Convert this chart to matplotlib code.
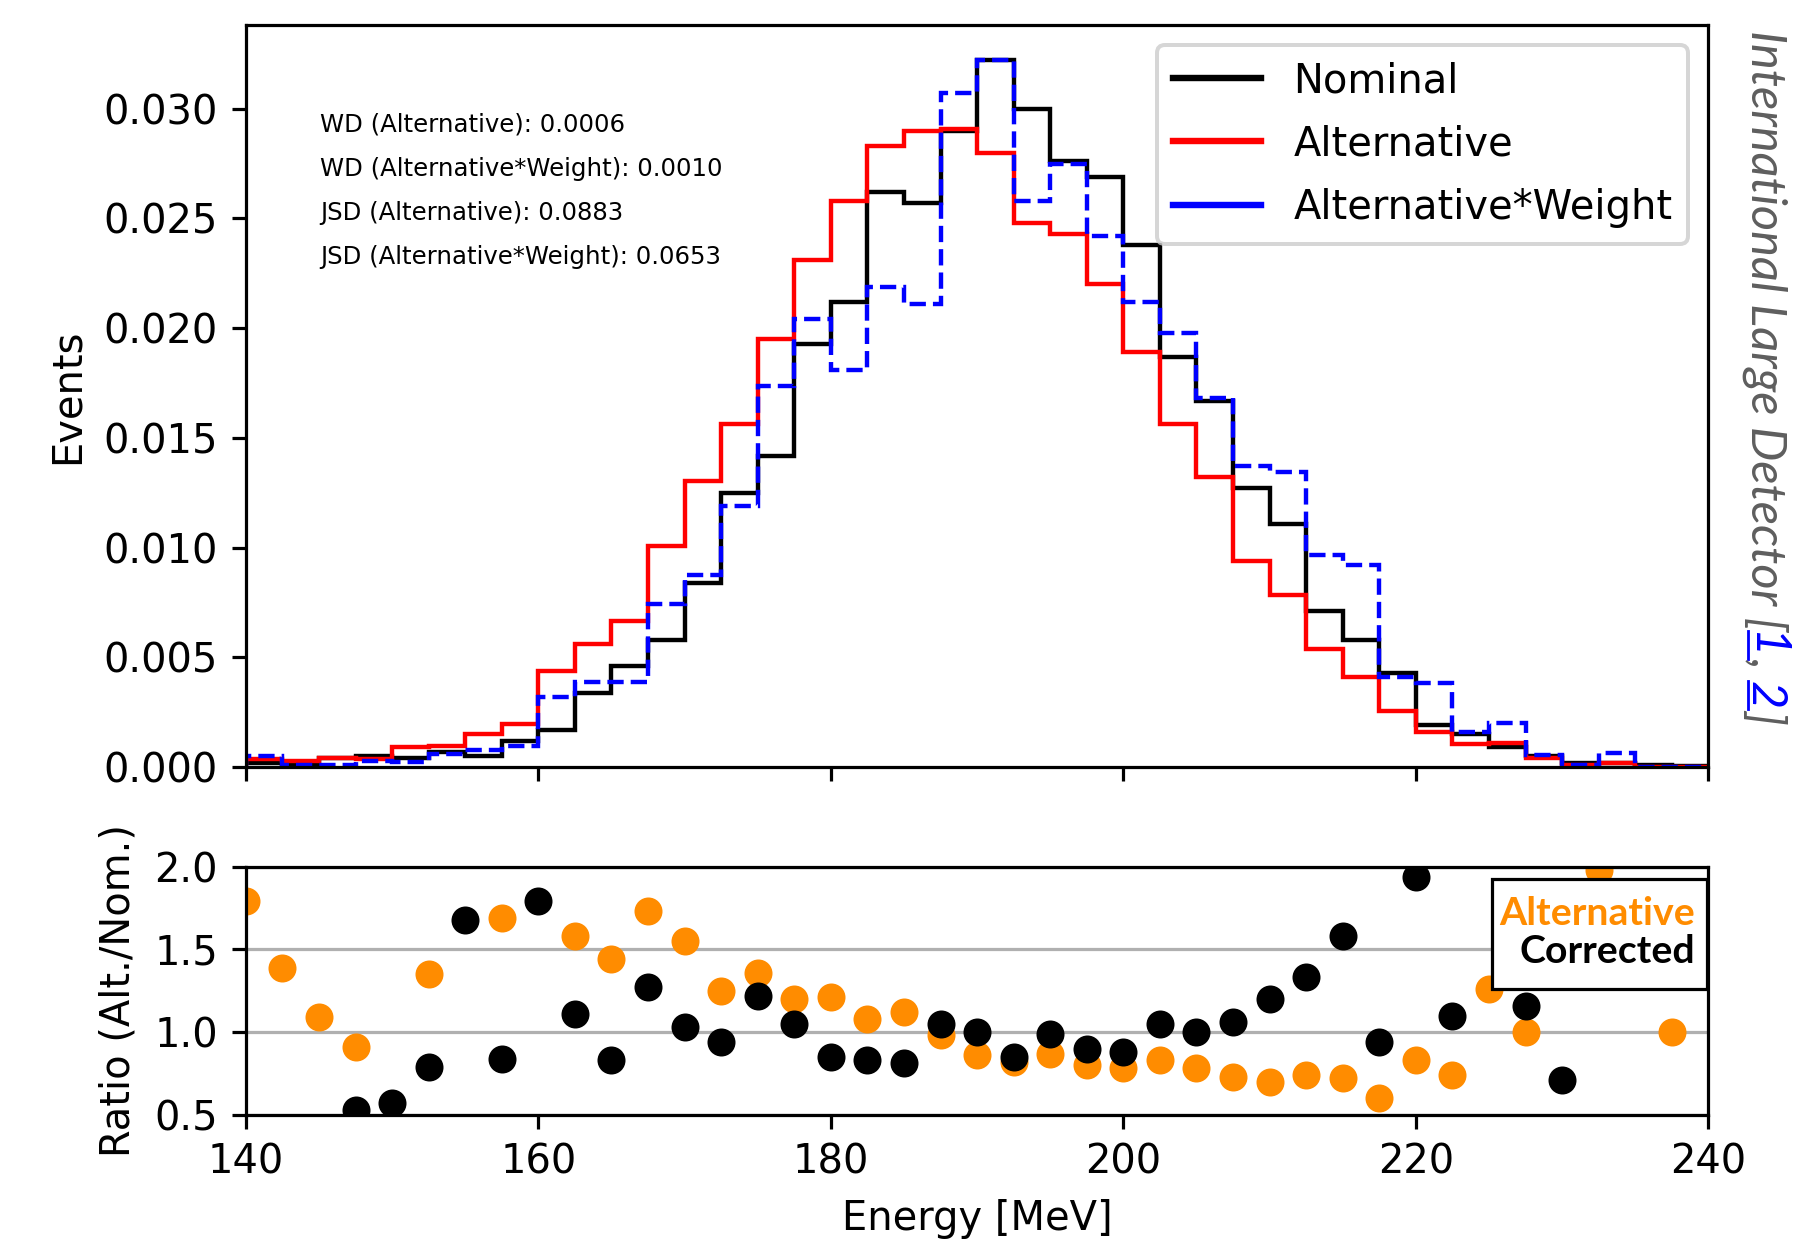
import numpy as np
import matplotlib
matplotlib.use("Agg")
import matplotlib.pyplot as plt
from matplotlib.lines import Line2D
from matplotlib.patches import Rectangle

# binning (left edges 140 ... 237.5, width 2.5)
e_lo, e_hi, e_step = 140, 240, 2.5
edges = np.arange(e_lo, e_hi + e_step / 2, e_step)

nominal = [0.0002, 0.00015, 0.0004, 0.0005, 0.0004, 0.0007, 0.0005, 0.0012, 0.0017, 0.0034,
           0.0046, 0.0058, 0.0084, 0.0125, 0.0142, 0.0193, 0.0212, 0.0262, 0.0257, 0.0290,
           0.0322, 0.0300, 0.0276, 0.0269, 0.0238, 0.0187, 0.0167, 0.0127, 0.0111, 0.0071,
           0.0058, 0.0043, 0.0019, 0.0015, 0.0009, 0.0005, 0.0002, 0.0002, 0.0001, 0.00006]
alternative = [0.00038, 0.00026, 0.00042, 0.00038, 0.00091, 0.00098, 0.00152, 0.00197, 0.00439, 0.00561,
               0.00667, 0.01008, 0.01303, 0.01565, 0.0195, 0.0231, 0.0258, 0.0283, 0.0290, 0.0291,
               0.0280, 0.0248, 0.0243, 0.0220, 0.0189, 0.01565, 0.0132, 0.00938, 0.00786, 0.00538,
               0.00413, 0.00254, 0.0016, 0.00106, 0.00112, 0.00041, 0.00008, 0.0002, 0.00003, 0.0]
alt_weight = [0.00053, 0.0001, 0.00008, 0.00026, 0.00023, 0.0006, 0.0008, 0.00098, 0.00318, 0.0039,
              0.00386, 0.00742, 0.00874, 0.0119, 0.01738, 0.0204, 0.0181, 0.0219, 0.0211, 0.0307,
              0.0322, 0.0258, 0.0275, 0.0242, 0.0212, 0.0198, 0.0168, 0.0137, 0.01345, 0.00968,
              0.0092, 0.0041, 0.00383, 0.0016, 0.0020, 0.00056, 0.0001, 0.00064, 0.0, 0.0]

nan = np.nan
ratio_alt = [1.79, 1.39, 1.09, 0.91, nan, 1.35, nan, 1.69, nan, 1.58,
             1.44, 1.73, 1.55, 1.25, 1.36, 1.20, 1.21, 1.08, 1.12, 0.98,
             0.86, 0.82, 0.87, 0.80, 0.78, 0.83, 0.78, 0.73, 0.70, 0.74,
             0.72, 0.60, 0.83, 0.74, 1.26, 1.00, nan, 1.98, nan, 1.00]
ratio_corr = [nan, nan, nan, 0.53, 0.57, 0.79, 1.68, 0.84, 1.79, 1.11,
              0.83, 1.27, 1.03, 0.94, 1.22, 1.05, 0.85, 0.83, 0.81, 1.05,
              1.00, 0.85, 0.99, 0.90, 0.88, 1.05, 1.00, 1.06, 1.20, 1.33,
              1.58, 0.94, 1.94, 1.10, nan, 1.16, 0.71, nan, nan, nan]

metrics = ["WD (Alternative): 0.0006",
           "WD (Alternative*Weight): 0.0010",
           "JSD (Alternative): 0.0883",
           "JSD (Alternative*Weight): 0.0653"]

W, H, DPI = 1793, 1244, 288
fig = plt.figure(figsize=(W / DPI, H / DPI), dpi=DPI)
ax = fig.add_axes([0.1371, 0.3833, 0.8157, 0.5965])
ax2 = fig.add_axes([0.1371, 0.1039, 0.8157, 0.1994])

lw = 1.1
ax.stairs(nominal, edges, color="black", lw=lw)
ax.stairs(alternative, edges, color="red", lw=lw)
ax.stairs(alt_weight, edges, color="blue", lw=lw, ls="--")
ax.set_xlim(e_lo, e_hi)
ax.set_ylim(0, None)
ax.set_xticks(np.arange(140, 241, 20))
ax.tick_params(labelbottom=False)
ax.set_ylabel("Events")

for i, s in enumerate(metrics):
    ax.text(0.051, 0.857 - 0.0597 * i, s, transform=ax.transAxes, fontsize=6.1, va="baseline")

handles = [Line2D([], [], color="black", lw=1.6),
           Line2D([], [], color="red", lw=1.6),
           Line2D([], [], color="blue", lw=1.6)]
ax.legend(handles, ["Nominal", "Alternative", "Alternative*Weight"], loc="upper right",
          labelspacing=0.58, handlelength=2.2)

# ratio panel
x_pts = edges[:-1]
ax2.set_axisbelow(True)
ax2.grid(axis="y")
ax2.scatter(x_pts, ratio_alt, color="darkorange")
ax2.scatter(x_pts, ratio_corr, color="black")
ax2.set_xlim(e_lo, e_hi)
ax2.set_ylim(0.5, 2.0)
ax2.set_xticks(np.arange(140, 241, 20))
ax2.set_yticks([0.5, 1.0, 1.5, 2.0])
ax2.set_xlabel("Energy [MeV]")
ax2.set_ylabel("Ratio (Alt./Nom.)")

# little key box (text only)
ax2.add_patch(Rectangle((0.8521, 0.5074), 0.147, 0.4433, transform=ax2.transAxes,
                        facecolor="white", edgecolor="black", lw=0.8, zorder=5))
key_font = dict(family="Lato", weight="bold", size=9.8, ha="right", va="baseline",
                transform=ax2.transAxes, zorder=6)
ax2.text(0.9909, 0.7654, "Alternative", color="darkorange", **key_font)
ax2.text(0.9909, 0.612, "Corrected", color="black", **key_font)

# vertical side note
fig.canvas.draw()
rend = fig.canvas.get_renderer()
grey = "#5e5e5e"
pieces = [("International Large Detector [", grey, False, 0),
          ("1", "blue", True, 0),
          (",", grey, False, 0),
          ("2", "blue", True, 11),
          ("]", grey, False, 0)]
y_cur = H - 30
for s, c, link, gap in pieces:
    y_cur -= gap
    t = fig.text(1765 / W, y_cur / H, s, rotation=270, ha="center", va="top", color=c,
                 family="Lato", style="italic", fontsize=12.15)
    bb = t.get_window_extent(rend)
    if link:
        ux = bb.x0 + 0.12 * bb.width
        fig.add_artist(Line2D([ux / W, ux / W], [bb.y0 / H, bb.y1 / H], color=c, lw=0.7,
                              transform=fig.transFigure))
    y_cur = bb.y0

fig.savefig("out.png", dpi=DPI)
